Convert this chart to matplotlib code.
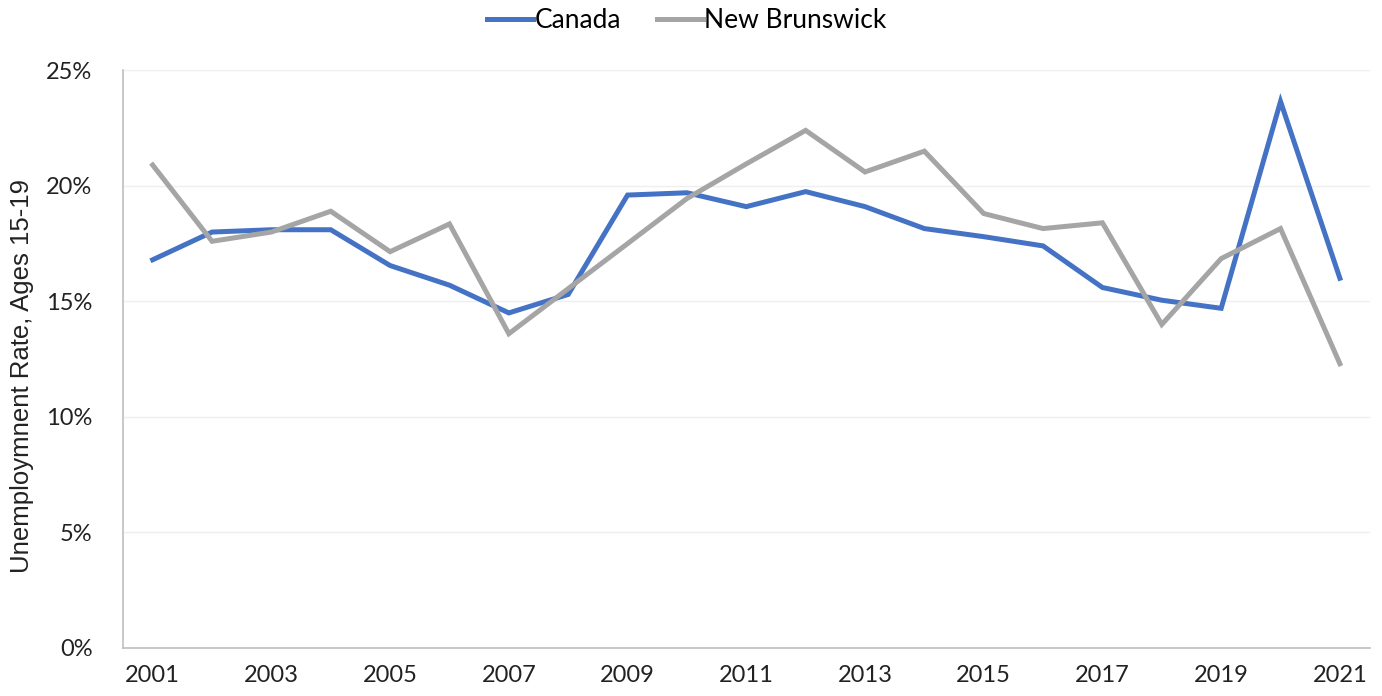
import matplotlib
matplotlib.use("Agg")
import matplotlib.pyplot as plt
from matplotlib.ticker import FuncFormatter, MultipleLocator

# ============================================
# Data
# ============================================

years = list(range(2001, 2022))

canada = [16.8, 18.0, 18.1, 18.1, 16.55, 15.7, 14.5, 15.3, 19.6, 19.7,
          19.1, 19.75, 19.1, 18.15, 17.8, 17.4, 15.6, 15.05, 14.7, 23.65, 16.0]

new_brunswick = [20.9, 17.6, 18.0, 18.9, 17.15, 18.35, 13.6, 15.55, 17.5, 19.45,
                 20.95, 22.4, 20.6, 21.5, 18.8, 18.15, 18.4, 14.0, 16.85, 18.15, 12.3]

tick_years = years[::2]

# ============================================
# Plot
# ============================================

plt.rcParams["font.family"] = ["Lato", "DejaVu Sans"]

fig = plt.figure(figsize=(13.82, 6.96), dpi=100)
ax = fig.add_axes([0.089, 0.069, 0.902, 0.830])

ax.plot(years, canada, color="#4472C4", linewidth=3.6, label="Canada",
        solid_joinstyle="miter")
ax.plot(years, new_brunswick, color="#A5A5A5", linewidth=3.6, label="New Brunswick",
        solid_joinstyle="miter")

ax.set_xlim(2000.5, 2021.5)
ax.set_ylim(0, 25)
ax.yaxis.set_major_locator(MultipleLocator(5))
ax.yaxis.set_major_formatter(FuncFormatter(lambda v, _: f"{v:.0f}%"))
ax.set_xticks(tick_years)
ax.set_xticklabels([str(y) for y in tick_years])

ax.grid(axis="y", color="#EFEFEF", linewidth=1)
ax.set_axisbelow(True)

for side in ["top", "right"]:
    ax.spines[side].set_visible(False)
for side in ["left", "bottom"]:
    ax.spines[side].set_color("#BFBFBF")
    ax.spines[side].set_linewidth(1.2)

ax.tick_params(axis="both", length=0, labelsize=17, colors="#222222")
ax.tick_params(axis="x", pad=12)
ax.tick_params(axis="y", pad=22)

ax.set_ylabel("Unemploymnent Rate, Ages 15-19", fontsize=18.5, color="#222222",
              family=["Liberation Sans", "DejaVu Sans"])
ax.yaxis.set_label_coords(-0.071, 0.47)

fig.legend(*ax.get_legend_handles_labels(), loc="upper center",
           bbox_to_anchor=(0.497, 1.022), ncol=2, frameon=False,
           fontsize=19, handlelength=1.75, handletextpad=0.05, columnspacing=1.35)

plt.savefig("out.png", dpi=100)
